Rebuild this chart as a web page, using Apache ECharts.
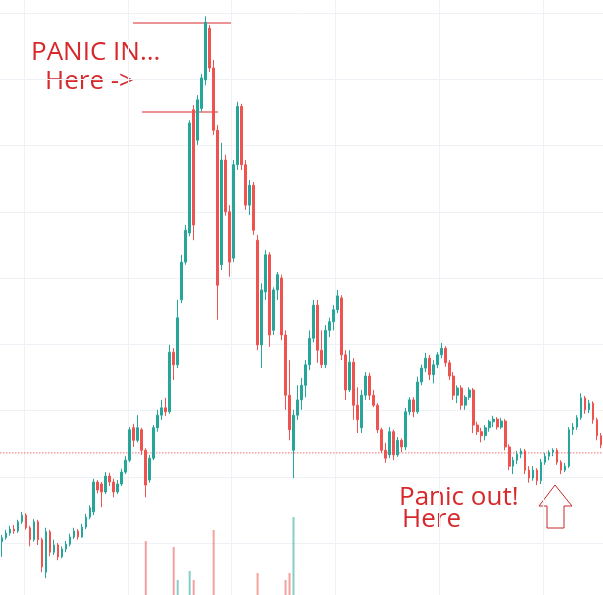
<!DOCTYPE html>
<html>
<head>
<meta charset="utf-8">
<script src="https://cdn.jsdelivr.net/npm/echarts@6/dist/echarts.min.js"></script>
<style>
html,body{margin:0;padding:0;background:#fff;}
#chart{width:603px;height:595px;}
</style>
</head>
<body>
<div id="chart"></div>
<script>
// Candle values (arbitrary price units; horizontal grid every 10)
var opens = [10.2,10.8,11.5,12.1,11.8,13.2,14.2,12.3,10.5,13.2,
10.5,5.6,11.7,8.6,9.7,7.9,9.1,9.8,10.9,11.8,
10.9,12.4,13.9,14.7,19.2,18.9,17.7,20.1,19.2,17.7,
18.9,20.7,22.5,27.4,25.5,27.1,24.0,19.5,22.8,27.4,
29.3,30.4,29.8,38.8,36.9,46.7,52.4,56.8,75.4,70.8,
75.6,79.9,87.7,81.7,72.3,52.0,67.8,60.0,53.0,67.1,
75.9,67.1,61.0,64.0,55.7,39.9,47.9,53.5,42.1,48.2,
50.0,41.4,32.3,24.0,29.3,31.6,33.8,36.9,40.9,45.9,
39.1,36.9,42.1,43.4,45.2,47.0,38.4,33.1,37.3,30.8,
27.4,32.3,35.2,32.3,30.8,27.1,24.0,23.3,26.8,23.3,
25.5,24.5,29.8,31.6,29.8,34.3,36.4,37.9,35.4,36.9,
38.4,39.4,37.2,35.2,32.3,33.4,30.8,32.0,33.1,27.8,
26.8,26.2,27.4,28.3,28.7,27.5,28.4,24.5,21.6,22.5,
23.4,23.9,21.0,19.8,21.0,19.4,22.2,23.1,23.7,24.0,
22.2,21.0,21.6,27.1,27.5,28.9,31.9,30.1,31.1,28.6,
26.2];
var closes = [10.8,11.5,12.1,11.8,13.2,14.2,12.3,10.5,13.2,10.5,
6.4,11.7,8.6,9.7,7.9,9.1,9.8,10.9,11.8,10.9,
12.4,13.9,15.3,19.2,18.0,17.7,20.1,19.2,17.7,18.9,
20.7,22.5,27.1,25.5,27.4,24.0,18.75,22.8,27.4,29.3,
30.4,29.8,38.8,36.9,44.0,52.4,57.2,73.4,58.0,76.9,
80.2,88.6,81.7,72.3,48.9,67.8,60.0,52.4,67.1,75.9,
67.1,61.0,64.0,57.2,39.9,48.2,53.5,41.4,48.2,50.5,
41.4,32.3,27.1,29.3,31.6,33.8,36.9,40.9,45.9,39.1,
36.9,42.1,43.4,45.2,47.3,38.4,33.1,37.3,30.8,28.6,
32.3,35.2,32.3,30.8,27.1,24.0,22.8,26.8,23.3,25.5,
24.5,29.8,31.6,29.8,34.3,36.4,37.9,35.4,36.9,38.4,
39.4,37.2,35.2,32.3,33.4,30.8,32.0,33.1,27.8,26.8,
26.2,27.4,28.3,28.7,27.5,28.4,24.5,21.6,22.5,23.4,
23.9,21.0,19.8,21.0,19.4,22.2,23.1,23.7,24.0,22.2,
21.0,21.6,27.1,27.5,28.9,31.9,30.1,31.1,28.6,26.2,
24.8];
var lows = [7.9,10.5,11.1,11.4,11.5,12.9,12.0,9.5,10.2,9.7,
5.6,4.7,8.0,8.2,7.4,7.7,8.6,9.5,10.6,10.5,
10.8,12.1,13.6,14.2,17.5,15.4,17.4,18.6,16.9,17.4,
18.6,20.4,22.2,24.5,25.2,23.3,16.9,19.1,22.5,26.8,
28.6,29.2,29.5,34.6,36.4,46.2,52.0,56.3,55.7,70.1,
75.1,79.1,81.1,71.6,43.7,51.2,59.4,50.2,52.4,66.3,
66.3,60.3,59.5,56.5,39.1,36.4,46.7,39.6,41.4,46.7,
40.6,30.1,25.5,19.8,28.6,30.1,32.0,36.1,40.3,37.2,
36.4,36.4,41.1,42.1,44.7,37.6,31.6,32.8,28.6,26.6,
26.6,31.6,31.6,30.5,26.6,23.6,22.1,22.8,22.5,23.0,
23.7,24.0,29.3,29.0,29.5,33.8,35.8,34.6,34.1,36.4,
37.9,36.6,34.6,31.6,31.1,30.1,30.1,31.6,26.6,26.3,
25.2,25.5,26.8,27.5,27.1,27.2,24.0,21.0,20.4,21.9,
22.8,20.4,19.1,19.4,18.75,18.9,21.8,22.5,23.1,21.8,
20.4,20.7,21.3,26.3,27.1,28.6,29.5,29.6,28.0,25.5,
24.3];
var highs = [11.2,12.0,12.6,12.7,13.5,14.7,14.5,12.6,13.6,13.5,
10.8,12.3,12.0,10.5,10.0,9.5,10.3,11.4,12.3,12.1,
12.9,14.4,15.7,19.7,19.5,19.2,20.7,20.6,19.7,19.5,
21.2,23.1,27.5,28.0,29.3,27.4,24.3,23.3,27.8,30.1,
31.6,31.9,39.9,39.4,46.7,53.5,58.0,73.8,76.1,77.6,
80.8,89.5,88.2,82.9,73.1,70.4,68.6,61.0,67.8,76.6,
76.3,67.8,64.8,64.5,56.5,49.2,54.2,53.9,48.6,50.9,
50.5,42.1,37.6,30.1,33.8,34.9,37.6,42.1,46.7,46.7,
42.1,42.9,44.0,45.9,48.2,47.4,39.1,39.1,37.9,33.5,
33.1,35.8,35.7,33.1,31.1,27.4,25.1,27.5,27.1,26.0,
25.8,30.4,32.0,32.0,35.1,36.9,38.7,38.4,37.6,38.8,
40.2,39.7,37.6,35.8,33.8,33.8,32.3,33.5,33.4,28.3,
27.4,27.8,28.6,29.2,29.0,28.9,28.7,24.9,23.0,23.9,
24.3,24.2,21.6,21.6,21.3,22.7,23.6,24.0,24.3,24.3,
22.5,22.1,27.5,28.1,29.3,32.6,32.2,31.6,31.4,28.9,
26.6];
var volumes = [3,4,3,5,4,6,5,4,3,5,
6,8,5,4,3,4,3,4,3,4,
4,5,5,8,6,7,5,4,6,5,
5,6,8,7,6,7,64,9,7,6,
6,5,8,58,25,9,8,34,25,9,
8,9,8,75,9,8,7,8,7,8,
8,7,6,7,32,9,7,8,7,6,
7,25,32,88,8,7,6,7,6,7,
6,5,6,5,6,7,6,5,6,7,
6,5,5,5,6,7,6,5,6,5,
5,6,5,5,6,5,5,4,5,5,
5,5,5,6,5,5,5,4,6,5,
5,5,4,4,4,4,5,6,5,4,
5,4,5,5,6,5,4,4,4,4,
5,4,6,5,5,6,5,4,5,5,
5];
var priceLine = 23.6;

var categories = opens.map(function(_, i){ return 'P' + (i + 1); });
var ohlc = opens.map(function(o, i){ return [o, closes[i], lows[i], highs[i]]; });
var UP = '#26a69a', DOWN = '#ef5350';
var volData = volumes.map(function(v, i){
  return { value: v, itemStyle: { color: closes[i] >= opens[i] ? 'rgba(38,166,154,0.55)' : 'rgba(239,83,80,0.55)' } };
});
var gridColor = '#eef1f6';
var red = '#d7282c';
var hidden = { axisLine: {show: false}, axisTick: {show: false}, axisLabel: {show: false} };

var chart = echarts.init(document.getElementById('chart'), null, {renderer: 'canvas'});
chart.setOption({
  animation: false,
  backgroundColor: '#ffffff',
  grid: [
    { left: -1, top: 13, width: 604, height: 530 },
    { left: -1, top: 495, width: 604, height: 100 },
    { left: -1, top: 0, width: 604, height: 595 }
  ],
  xAxis: [
    Object.assign({ type: 'category', data: categories, gridIndex: 0, boundaryGap: true, splitLine: {show: false} }, hidden),
    Object.assign({ type: 'category', data: categories, gridIndex: 1, boundaryGap: true, splitLine: {show: false} }, hidden),
    Object.assign({ type: 'category', data: categories, gridIndex: 2, boundaryGap: true,
      splitLine: { show: true, interval: function(idx){ return (idx - 6) % 26 === 0; },
        lineStyle: {color: gridColor, width: 1} } }, hidden),
    Object.assign({ type: 'value', gridIndex: 0, min: 0, max: 1, splitLine: {show: false} }, hidden)
  ],
  yAxis: [
    Object.assign({ type: 'value', gridIndex: 0, min: 10, max: 90, interval: 10,
      splitLine: {show: true, lineStyle: {color: gridColor, width: 1}} }, hidden),
    Object.assign({ type: 'value', gridIndex: 1, min: 10, max: 110, splitLine: {show: false} }, hidden),
    Object.assign({ type: 'value', gridIndex: 2, min: 0, max: 1, splitLine: {show: false} }, hidden)
  ],
  series: [
    { type: 'line', xAxisIndex: 3, yAxisIndex: 0, silent: true, symbol: 'none', z: 1,
      data: [[0, priceLine], [1, priceLine]],
      lineStyle: { color: '#f07070', type: [1.5, 1.5], width: 1, opacity: 1 },
      itemStyle: { color: '#f07070' } },
    { type: 'candlestick', xAxisIndex: 0, yAxisIndex: 0, data: ohlc, clip: false, z: 2,
      barWidth: 2.2,
      itemStyle: { color: UP, color0: DOWN, borderColor: UP, borderColor0: DOWN, borderWidth: 1 }
    },
    { type: 'bar', xAxisIndex: 1, yAxisIndex: 1, data: volData, barWidth: 2 }
  ],
  graphic: [
    { type: 'line', shape: {x1: 133, y1: 23, x2: 232, y2: 23}, style: {stroke: red, lineWidth: 1.2} },
    { type: 'line', shape: {x1: 142, y1: 112, x2: 218, y2: 112}, style: {stroke: red, lineWidth: 1.2} },
    { type: 'text', x: 31, y: 53, style: { text: 'PANIC IN...', font: '26px "Open Sans"', fill: red, textVerticalAlign: 'middle' } },
    { type: 'text', x: 45, y: 82, style: { text: 'Here ->', font: '26px "Open Sans"', fill: red, textVerticalAlign: 'middle' } },
    { type: 'text', x: 399, y: 498, style: { text: 'Panic out!', font: '26px "Open Sans"', fill: red, textVerticalAlign: 'middle' } },
    { type: 'text', x: 402, y: 520, style: { text: 'Here', font: '26px "Open Sans"', fill: red, textVerticalAlign: 'middle' } },
    { type: 'polygon', shape: { points: [[555,485],[572,506],[564,506],[564,528],[547,528],[547,506],[539,506]] },
      style: { fill: '#ffffff', stroke: '#c62828', lineWidth: 1 } }
  ]
});
</script>
</body>
</html>
